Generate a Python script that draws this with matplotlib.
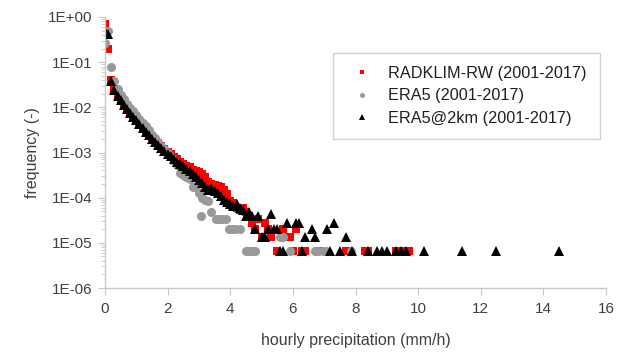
import numpy as np
import matplotlib
matplotlib.use("Agg")
import matplotlib.pyplot as plt
from matplotlib.ticker import FixedLocator, FuncFormatter, LogLocator, NullFormatter

plt.rcParams['font.family'] = ['Liberation Sans', 'DejaVu Sans']

# RADKLIM-RW (2001-2017)
radklim_x = [0.0, 0.1, 0.2, 0.3, 0.4, 0.5, 0.6, 0.7, 0.8, 0.9,
             1.0, 1.1, 1.2, 1.3, 1.4, 1.5, 1.6, 1.7, 1.8, 1.9,
             2.0, 2.1, 2.2, 2.3, 2.4, 2.5, 2.6, 2.7, 2.8, 2.9,
             3.0, 3.1, 3.2, 3.3, 3.4, 3.5, 3.6, 3.7, 3.8, 3.9,
             4.0, 4.1, 4.2, 4.3, 4.4, 4.5, 4.6, 4.7, 4.8, 4.9,
             5.0, 5.1, 5.2, 5.3, 5.5, 5.7, 5.8, 5.9, 6.0, 6.1,
             6.3, 6.4, 6.8, 7.7, 8.3, 8.4, 9.3, 9.5, 9.7]
radklim_f = [0.70, 0.20, 0.040, 0.025, 0.019, 0.015, 0.012, 0.0095, 0.0078, 0.0065,
             0.0055, 0.0045, 0.0037, 0.0031, 0.0026, 0.0022, 0.0019, 0.0016, 0.0014, 0.0012,
             0.00105, 0.00092, 0.0008, 0.0007, 0.00062, 0.00056, 0.0005, 0.00047, 0.00042, 0.00038,
             0.00037, 0.00033, 0.00028, 0.00022, 0.0002, 0.00019, 0.00018, 0.00017, 0.00015, 0.00012,
             8.5e-5, 7.5e-5, 6.0e-5, 5.4e-5, 6.0e-5, 4.7e-5, 4.0e-5, 2.7e-5, 2.0e-5, 3.4e-5,
             1.34e-5, 2.7e-5, 2.0e-5, 1.34e-5, 6.7e-6, 2.0e-5, 1.34e-5, 1.34e-5, 6.7e-6, 2.0e-5,
             6.7e-6, 6.7e-6, 6.7e-6, 6.7e-6, 6.7e-6, 6.7e-6, 6.7e-6, 6.7e-6, 6.7e-6]

# ERA5 (2001-2017)
era5_x = [0.0, 0.1, 0.2, 0.3, 0.4, 0.5, 0.6, 0.7, 0.8, 0.9,
          1.0, 1.1, 1.2, 1.3, 1.4, 1.5, 1.6, 1.7, 1.8, 1.9,
          2.0, 2.1, 2.2, 2.3, 2.4, 2.5, 2.6, 2.7, 2.8, 2.9,
          3.0, 3.1, 3.2, 3.3, 3.05, 3.4, 3.55, 3.65, 3.75, 3.85,
          3.95, 4.05, 4.15, 4.3, 4.5, 4.6, 4.7, 4.8, 5.6, 5.7,
          5.9, 6.7, 6.8, 6.95, 7.05, 7.85]
era5_f = [0.26, 0.50, 0.08, 0.038, 0.026, 0.019, 0.015, 0.012, 0.0098, 0.0082,
          0.0068, 0.0056, 0.0046, 0.0038, 0.0031, 0.0025, 0.0021, 0.0017, 0.0014, 0.0012,
          0.00098, 0.0008, 0.00066, 0.00054, 0.00036, 0.00031, 0.00029, 0.00026, 0.00017, 0.00017,
          0.00013, 0.0001, 9e-5, 8.5e-5, 4.0e-5, 4.7e-5, 3.4e-5, 3.4e-5, 3.4e-5, 3.4e-5,
          2.0e-5, 2.0e-5, 2.0e-5, 2.0e-5, 6.7e-6, 6.7e-6, 6.7e-6, 6.7e-6, 1.34e-5, 1.34e-5,
          6.7e-6, 6.7e-6, 6.7e-6, 6.7e-6, 6.7e-6, 6.7e-6]

# ERA5@2km (2001-2017)
era2_x = [0.0, 0.1, 0.2, 0.3, 0.4, 0.5, 0.6, 0.7, 0.8, 0.9,
          1.0, 1.1, 1.2, 1.3, 1.4, 1.5, 1.6, 1.7, 1.8, 1.9,
          2.0, 2.1, 2.2, 2.3, 2.4, 2.5, 2.6, 2.7, 2.8, 2.9,
          3.0, 3.1, 3.2, 3.3, 3.4, 3.5, 3.6, 3.7, 3.8, 3.9,
          4.0, 4.1, 4.2, 4.3, 4.4, 4.5, 4.6, 4.7, 4.8, 4.9,
          5.0, 5.1, 5.2, 5.3, 5.4, 5.5, 5.6, 5.7, 5.8, 6.1,
          6.2, 6.3, 6.4, 6.6, 6.7, 7.1, 7.2, 7.3, 7.5, 7.7,
          7.9, 8.4, 8.7, 8.85, 9.0, 9.3, 9.45, 9.6, 10.2, 11.4,
          12.5, 14.5]
era2_f = [0.50, 0.42, 0.038, 0.024, 0.018, 0.0145, 0.0115, 0.0092, 0.0075, 0.0062,
          0.0052, 0.0043, 0.0035, 0.0029, 0.0024, 0.002, 0.0017, 0.00145, 0.00125, 0.0011,
          0.00095, 0.00083, 0.00072, 0.00063, 0.00055, 0.00049, 0.00043, 0.00038, 0.00033, 0.00029,
          0.00025, 0.00021, 0.00017, 0.00015, 0.00016, 0.00014, 0.00013, 0.00011, 9e-5, 8e-5,
          7.4e-5, 6.7e-5, 7.4e-5, 6.0e-5, 5.4e-5, 4.0e-5, 4.7e-5, 4.0e-5, 2.0e-5, 4.0e-5,
          1.34e-5, 1.34e-5, 2.0e-5, 4.4e-5, 2.0e-5, 2.0e-5, 6.7e-6, 6.7e-6, 2.7e-5, 2.7e-5,
          2.7e-5, 6.7e-6, 1.34e-5, 2.0e-5, 1.34e-5, 2.0e-5, 6.7e-6, 2.7e-5, 6.7e-6, 1.34e-5,
          6.7e-6, 6.7e-6, 6.7e-6, 6.7e-6, 6.7e-6, 6.7e-6, 6.7e-6, 6.7e-6, 6.7e-6, 6.7e-6,
          6.7e-6, 6.7e-6]

x_ticks = [0, 2, 4, 6, 8, 10, 12, 14, 16]

fig = plt.figure(figsize=(6.17, 3.55), dpi=100)
ax = fig.add_axes([105/617, 1-288/355, 501/617, 271/355])

ax.plot(radklim_x, radklim_f, 's', color='#ff0000', ms=6.2, mew=0, label='RADKLIM-RW (2001-2017)')
ax.plot(era5_x, era5_f, 'o', color='#999999', ms=6.5, mew=0, label='ERA5 (2001-2017)')
ax.plot(era2_x, era2_f, '^', color='#000000', ms=7, mew=0, label='ERA5@2km (2001-2017)')

ax.set_yscale('log')
ax.set_xlim(0, 16)
ax.set_ylim(1e-6, 1)
ax.xaxis.set_major_locator(FixedLocator(x_ticks))
ax.yaxis.set_major_locator(LogLocator(base=10, numticks=10))
ax.yaxis.set_minor_locator(LogLocator(base=10, subs=np.arange(2, 10), numticks=10))
ax.yaxis.set_minor_formatter(NullFormatter())
ax.yaxis.set_major_formatter(FuncFormatter(lambda v, p: "1E%+03d" % int(round(np.log10(v)))))

for s in ['top', 'right']:
    ax.spines[s].set_visible(False)
for s in ['left', 'bottom']:
    ax.spines[s].set_color('#c8c8c8')
    ax.spines[s].set_linewidth(1)

ax.tick_params(axis='both', which='major', length=5, color='#c8c8c8', labelsize=11,
               labelcolor='#404040', pad=4)
ax.tick_params(axis='x', which='major', pad=5)
ax.tick_params(axis='y', which='minor', length=3, color='#c8c8c8')

ax.set_xlabel('hourly precipitation (mm/h)', fontsize=11.5, color='#404040', labelpad=12)
ax.set_ylabel('frequency (-)', fontsize=11.5, color='#404040', labelpad=6)

leg = ax.legend(loc='upper right', bbox_to_anchor=(0.988, 0.867), borderaxespad=0,
                fontsize=11.7, markerscale=0.55, frameon=True, fancybox=False,
                edgecolor='#c8c8c8', labelspacing=0.45, borderpad=0.8,
                handlelength=1.9, handletextpad=0.7)
leg.get_frame().set_linewidth(1)
for t in leg.get_texts():
    t.set_color('#202020')

fig.savefig('out.png', dpi=100)
